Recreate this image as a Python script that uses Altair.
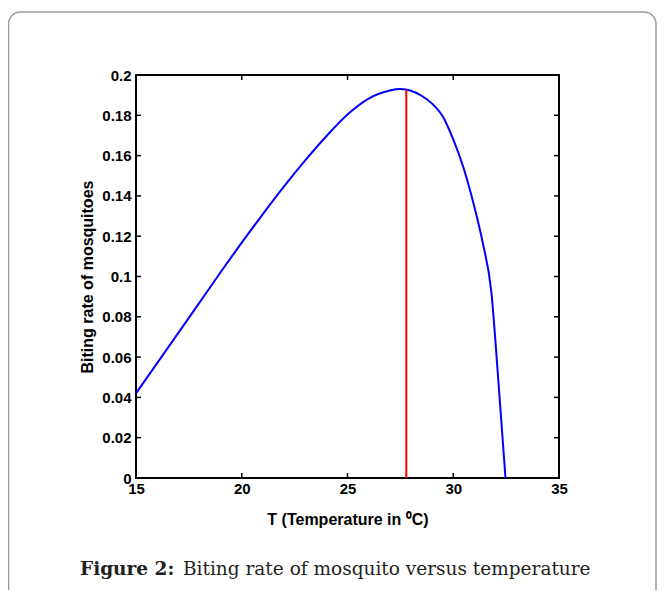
import altair as alt
import pandas as pd

# Curve
temps = [15, 16, 17, 18, 19, 20, 21, 22, 23, 24, 25, 26, 27, 27.5, 28, 28.5,
         29, 29.5, 30, 30.5, 31, 31.4, 31.8, 32.1, 32.47]
rates = [0.042, 0.057, 0.072, 0.087, 0.1021, 0.1168, 0.131, 0.1447, 0.1576,
         0.1696, 0.1804, 0.1883, 0.1923, 0.193, 0.1922, 0.1897, 0.1858,
         0.1795, 0.168, 0.1535, 0.1345, 0.1165, 0.0925, 0.053, 0.0]

# Vertical marker at the optimum temperature
peak_t = [27.78]
peak_rate = [0.1927]

x_ticks = [15, 20, 25, 30, 35]
y_ticks = [0, 0.02, 0.04, 0.06, 0.08, 0.1, 0.12, 0.14, 0.16, 0.18, 0.2]

W, H = 423, 403
FONT = "Liberation Sans"

curve = pd.DataFrame({"T": temps, "rate": rates})
peak = pd.DataFrame({"T": peak_t, "rate": peak_rate, "base": [0.0]})
xt = pd.DataFrame({"T": x_ticks})
yt = pd.DataFrame({"rate": y_ticks})
one = pd.DataFrame({"a": [0]})

xscale = alt.Scale(domain=[15, 35], nice=False, zero=False)
yscale = alt.Scale(domain=[0, 0.2], nice=False)

xaxis = alt.Axis(values=x_ticks, ticks=False, domain=False, grid=False,
                 labelFont=FONT, labelFontWeight="bold", labelFontSize=15,
                 labelColor="black", labelPadding=3, labelFlush=False,
                 title="T (Temperature in \u2070C)", titleFont=FONT,
                 titleFontWeight="bold", titleFontSize=16, titleColor="black",
                 titlePadding=15)
yaxis = alt.Axis(values=y_ticks, ticks=False, domain=False, grid=False,
                 format="~g", labelFont=FONT, labelFontWeight="bold",
                 labelFontSize=15, labelColor="black", labelPadding=5,
                 labelFlush=False,
                 title="Biting rate of mosquitoes", titleFont=FONT,
                 titleFontWeight="bold", titleFontSize=16, titleColor="black",
                 titlePadding=6)

border = alt.Chart(one).mark_rect(
    fill="transparent", stroke="#9a9a9a", strokeWidth=1.5, cornerRadius=12
).encode(x=alt.value(-127.5), x2=alt.value(520), y=alt.value(-63), y2=alt.value(560))

line = alt.Chart(curve).mark_line(
    color="#0000ff", strokeWidth=2, interpolate="monotone"
).encode(
    x=alt.X("T:Q", scale=xscale, axis=xaxis),
    y=alt.Y("rate:Q", scale=yscale, axis=yaxis),
)

red = alt.Chart(peak).mark_rule(color="#ff0000", strokeWidth=2).encode(
    x="T:Q", y="base:Q", y2="rate:Q"
)

tick_style = dict(color="black", strokeWidth=1.5)
bottom_ticks = alt.Chart(xt).mark_rule(**tick_style).encode(
    x="T:Q", y=alt.value(H), y2=alt.value(H - 5))
top_ticks = alt.Chart(xt).mark_rule(**tick_style).encode(
    x="T:Q", y=alt.value(0), y2=alt.value(5))
left_ticks = alt.Chart(yt).mark_rule(**tick_style).encode(
    y="rate:Q", x=alt.value(0), x2=alt.value(5))
right_ticks = alt.Chart(yt).mark_rule(**tick_style).encode(
    y="rate:Q", x=alt.value(W), x2=alt.value(W - 5))

cap_bold = alt.Chart(one).mark_text(
    text="Figure 2:", font="DejaVu Serif", fontSize=18.5, fontWeight="bold",
    color="#231f20", align="left", baseline="alphabetic"
).encode(x=alt.value(-56), y=alt.value(500))
cap_rest = alt.Chart(one).mark_text(
    text="Biting rate of mosquito versus temperature", font="DejaVu Serif",
    fontSize=18.5, color="#231f20", align="left", baseline="alphabetic"
).encode(x=alt.value(47), y=alt.value(500))

chart = alt.layer(
    border, line, red, bottom_ticks, top_ticks, left_ticks, right_ticks,
    cap_bold, cap_rest
).properties(
    width=W, height=H,
    autosize=alt.AutoSizeParams(type="none"),
    padding={"left": 128, "top": 67, "right": 98, "bottom": 112},
    background="white",
).configure_view(stroke="black", strokeWidth=2)

chart.save("out.html", embed_options={"renderer": "svg", "actions": False})
